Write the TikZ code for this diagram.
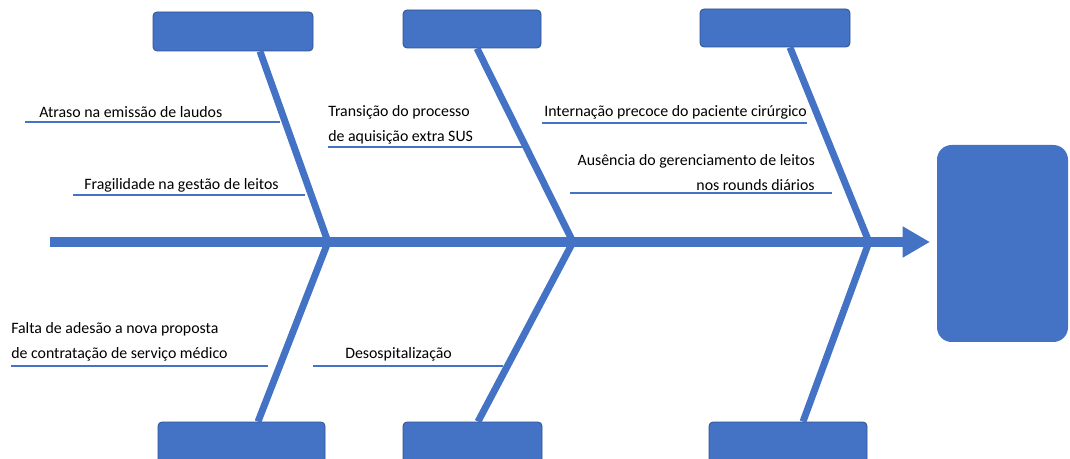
\documentclass[tikz,border=0pt]{standalone}
\usepackage{fontspec}
\setmainfont{Carlito}
\usetikzlibrary{arrows.meta}
\definecolor{fishblue}{RGB}{68,114,196}
\definecolor{boxline}{RGB}{47,82,143}

\begin{document}
\begin{tikzpicture}[x=0.75pt,y=-0.75pt,
    catbox/.style={draw=boxline,line width=0.6pt,fill=fishblue,rounded corners=3pt,inner sep=0pt},
    bone/.style={draw=fishblue,line width=5.2pt},
    twig/.style={draw=fishblue,line width=2pt},
    cause/.style={font=\fontsize{11.9}{18.75}\selectfont,inner sep=0pt,align=left}]
    \clip (0,0) rectangle (1070,459);

    % head and spine
    \node[fill=fishblue,rounded corners=11pt,minimum width=98.25pt,minimum height=147.75pt,inner sep=0pt] (effect) at (1002.5,243.5) {};
    \coordinate (tail) at (50,242);
    \coordinate (head) at (930,242);
    \draw[draw=fishblue,line width=7.5pt,-{Triangle[length=20.5pt,width=22pt]}] (tail) -- (head);

    % category boxes
    \node[catbox,minimum width=120pt,minimum height=29.25pt] (c1) at (233,31.5) {};
    \node[catbox,minimum width=103.5pt,minimum height=28.5pt] (c2) at (472,29) {};
    \node[catbox,minimum width=112.5pt,minimum height=28.5pt] (c3) at (775,28) {};
    \node[catbox,minimum width=125.25pt,minimum height=43.5pt] (c4) at (241.5,451) {};
    \node[catbox,minimum width=104.25pt,minimum height=43.5pt] (c5) at (472.5,451) {};
    \node[catbox,minimum width=118.5pt,minimum height=43.5pt] (c6) at (788,451) {};

    % bones
    \coordinate (j1) at (328,242);
    \coordinate (j2) at (573,242);
    \coordinate (j3) at (869,242);
    \draw[bone] (c1.south -| 260,0) -- (j1);
    \draw[bone] (c2.south -| 477,0) -- (j2);
    \draw[bone] (c3.south -| 790,0) -- (j3);
    \draw[bone] (j1) -- (c4.north -| 258,0);
    \draw[bone] (j2) -- (c5.north -| 478,0);
    \draw[bone] (j3) -- (c6.north -| 803,0);

    % causes
    \coordinate (a1) at (25,122);   \coordinate (a2) at (280,122);
    \coordinate (b1) at (73,195);   \coordinate (b2) at (305,195);
    \coordinate (d1) at (328,147);  \coordinate (d2) at (523,147);
    \coordinate (e1) at (542,123);  \coordinate (e2) at (807,123);
    \coordinate (f1) at (570,193);  \coordinate (f2) at (832,193);
    \coordinate (g1) at (11,366);   \coordinate (g2) at (268,366);
    \coordinate (h1) at (313,366);  \coordinate (h2) at (503,366);
    \foreach \p in {a,b,d,e,f,g,h}
        \draw[twig] (\p1) -- (\p2);

    \node[cause,anchor=west] (atraso) at (39,112) {Atraso na emissão de laudos};
    \node[cause,anchor=west] (fragil) at (84,185) {Fragilidade na gestão de leitos};
    \node[cause,anchor=west] (transic) at (328,124.5) {Transição do processo\\de aquisição extra SUS};
    \node[cause,anchor=west] (internac) at (544,112) {Internação precoce do paciente cirúrgico};
    \node[cause,anchor=east,align=right] (ausenc) at (815,172.5) {Ausência do gerenciamento de leitos\\nos rounds diários};
    \node[cause,anchor=west] (falta) at (11,342) {Falta de adesão a nova proposta\\de contratação de serviço médico};
    \node[cause,anchor=west] (desosp) at (345,354) {Desospitalização};
\end{tikzpicture}
\end{document}
